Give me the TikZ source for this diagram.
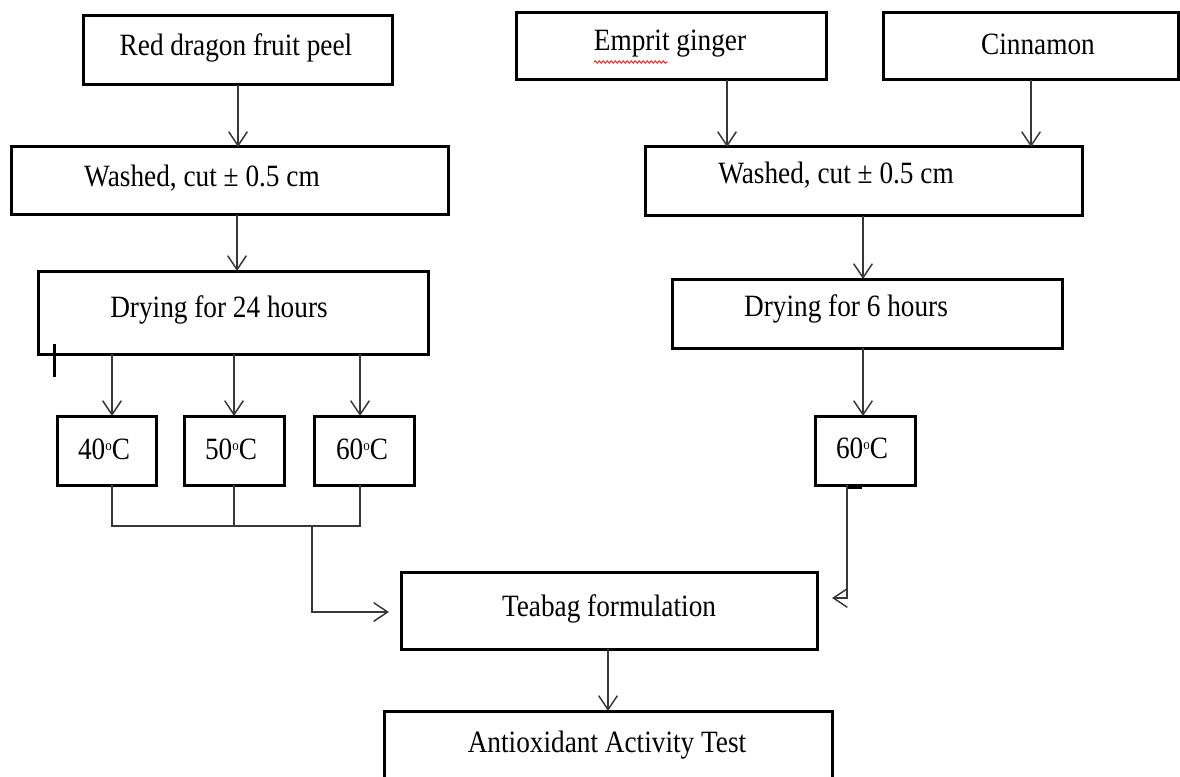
\documentclass[tikz,border=0pt]{standalone}
\usepackage{fontspec}
\setmainfont{Liberation Serif}[FakeStretch=0.88]
\usetikzlibrary{arrows.meta,decorations.pathmorphing}
\newcommand{\degsm}{\raisebox{0.62ex}{\fontsize{11}{11}\selectfont o}}
\begin{document}
\begin{tikzpicture}[x=0.75pt,y=-0.75pt,
  box/.style={draw=black,line width=2.25pt,fill=none,inner sep=0pt,outer sep=0pt},
  txt/.style={inner sep=0pt,font=\fontsize{23.25}{28}\selectfont,text=black},
  conn/.style={draw=black!78,line width=1.1pt,-{Straight Barb[length=10.5pt,width=14pt,line width=1.1pt]}},
  plain/.style={draw=black!78,line width=1.1pt}]
\useasboundingbox[fill=white] (0,0) rectangle (1180,777);
% boxes
\node[box,minimum width=231.75pt,minimum height=51.75pt] (red) at (237.5,50.5) {};
\node[box,minimum width=232.5pt,minimum height=50.25pt] (emprit) at (671,46.5) {};
\node[box,minimum width=221.25pt,minimum height=50.25pt] (cinn) at (1030.5,46.5) {};
\node[box,minimum width=327.75pt,minimum height=51pt] (washL) at (229.5,181) {};
\node[box,minimum width=327.75pt,minimum height=51.75pt] (washR) at (863.5,181.5) {};
\node[box,minimum width=292.5pt,minimum height=62.25pt] (dryL) at (233,312.5) {};
\node[box,minimum width=292.5pt,minimum height=51.75pt] (dryR) at (867,313.5) {};
\node[box,minimum width=74.25pt,minimum height=51.75pt] (tA) at (106.5,450.5) {};
\node[box,minimum width=75pt,minimum height=51.75pt] (tB) at (234,450.5) {};
\node[box,minimum width=75pt,minimum height=51.75pt] (tC) at (364,450.5) {};
\node[box,minimum width=75pt,minimum height=51.75pt] (tR) at (865,450.5) {};
\node[box,minimum width=312pt,minimum height=57.75pt] (tea) at (609,610.5) {};
\node[box,minimum width=336pt,minimum height=55.5pt] (anti) at (608,748) {};
% texts
\node[txt] (redT) at (236,48) {Red dragon fruit peel};
\node[txt] (empritT) at (670,44) {Emprit ginger};
\node[txt] (cinnT) at (1038,44) {Cinnamon};
\node[txt] (washLT) at (202,178) {Washed, cut ± 0.5 cm};
\node[txt] (washRT) at (836,175) {Washed, cut ± 0.5 cm};
\node[txt] (dryLT) at (219,310) {Drying for 24 hours};
\node[txt] (dryRT) at (846,309) {Drying for 6 hours};
\node[txt] (tAT) at (104,449) {40\degsm C};
\node[txt] (tBT) at (231,449) {50\degsm C};
\node[txt] (tCT) at (362,449) {60\degsm C};
\node[txt] (tRT) at (862,448) {60\degsm C};
\node[txt] (teaT) at (609,609) {Teabag formulation};
\node[txt] (antiT) at (607,745) {Antioxidant Activity Test};
% spell-check underline
\coordinate (sqA) at (594,62);
\coordinate (sqB) at (668,62);
\draw[red,line width=0.6pt,decorate,decoration={snake,amplitude=0.9pt,segment length=3pt}] (sqA) -- (sqB);
% connectors
\draw[conn] (red.south -| 238,0) -- (washL.north -| 238,0);
\draw[conn] (washL.south -| 237,0) -- (dryL.north -| 237,0);
\draw[conn] (emprit.south -| 727,0) -- (washR.north -| 727,0);
\draw[conn] (cinn.south -| 1031,0) -- (washR.north -| 1031,0);
\draw[conn] (washR.south -| 863,0) -- (dryR.north -| 863,0);
\draw[conn] (dryR.south -| 863,0) -- (tR.north -| 863,0);
\draw[conn] (dryL.south -| 112,0) -- (tA.north -| 112,0);
\draw[conn] (dryL.south -| 234,0) -- (tB.north -| 234,0);
\draw[conn] (dryL.south -| 360,0) -- (tC.north -| 360,0);
% merge
\coordinate (mA) at (112,526);
\coordinate (mB) at (234,526);
\coordinate (mC) at (360,526);
\coordinate (mj) at (312,526);
\draw[plain] (tA.south -| mA) -- (mA) -- (mC) -- (tC.south -| mC);
\draw[plain] (tB.south -| mB) -- (mB);
\coordinate (teaIn) at (389,612);
\draw[conn] (mj) |- (teaIn);
\coordinate (teaInR) at (832,598);
\coordinate (rOut) at (847,0);
\draw[conn] (tR.south -| rOut) |- (teaInR);
\coordinate (blobA) at (848,487);
\coordinate (blobB) at (862,487);
\draw[line width=2.25pt] (blobA) -- (blobB);
\draw[conn] (tea.south -| 608,0) -- (anti.north -| 608,0);
% cursor mark
\coordinate (curA) at (54,344);
\coordinate (curB) at (54,377);
\draw[line width=2.25pt] (curA) -- (curB);
\end{tikzpicture}
\end{document}
